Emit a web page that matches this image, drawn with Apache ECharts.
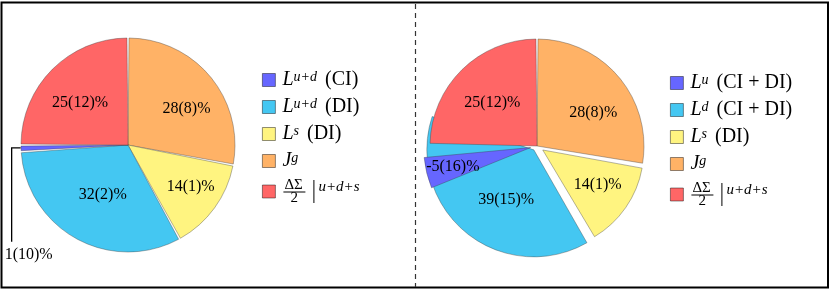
<!DOCTYPE html>
<html><head><meta charset="utf-8">
<script src="https://cdn.jsdelivr.net/npm/echarts@6/dist/echarts.min.js"></script>
<style>html,body{margin:0;padding:0;background:#fff}#c{width:831px;height:291px}</style>
</head><body><div id="c"></div>
<script>
// Legend order: L(CI) blue, L(DI) cyan, L^s yellow, J^g orange, DeltaSigma/2 red
const leftKeys = ['L_ud_CI', 'L_ud_DI', 'L_s_DI', 'J_g', 'DSig_L'];
const leftValues = [1, 32, 14, 28, 25];
const leftErrors = [10, 2, 1, 8, 12];

const rightKeys = ['L_u_CIDI', 'L_d_CIDI', 'L_s_DI_R', 'J_g_R', 'DSig_R'];
const rightValues = [-5, 39, 14, 28, 25];
const rightErrors = [16, 15, 1, 8, 12];

const colors = ['#6666FF', '#44C7F2', '#FFF480', '#FFB266', '#FF6666'];
// drawing order clockwise from 12 o'clock
const drawOrder = [3, 2, 1, 0, 4];

// ---- style / layout config ----
const FONT = 'Liberation Serif';
const R = 107;
const leftCenter = [128, 145];
const rightCenter = [537, 146];
const PAD = 1.1;
const border = { borderColor: 'rgba(60,60,60,0.55)', borderWidth: 0.7 };
const leftLabelShift = { 3: [15, 0], 2: [17, 9], 1: [2, 0], 4: [-8, -2] };
const rightLabelShift = { 3: [13, 3], 2: [11, 4], 1: [8, 6], 0: [-23, 6], 4: [-5, -3] };
const rightExplode = { 3: 0, 2: 7, 1: 5, 0: 6.5, 4: 0 };
const rightRadius = { 3: R, 2: R - 6, 1: R, 0: R, 4: R };
const blueBackShift = 1.6;

const FRAC = '{g0| }{num|ΔΣ}{g1| }{vb1| }{g2| }{sup2|u+d+s}\n{g0r| }{rule| }{g1r| }{vb2| }\n{g0d| }{den|2}{g1d| }{vb3| }';
const legendText = {
  L_ud_CI: '{g| }{it|L}{sup|u+d}{sp| }{rm|(CI)}',
  L_ud_DI: '{g| }{it|L}{sup|u+d}{sp| }{rm|(DI)}',
  L_s_DI: '{g| }{it|L}{sup|s}{sp| }{rm|(DI)}',
  J_g: '{g| }{it|J}{sup|g}',
  DSig_L: FRAC,
  L_u_CIDI: '{g| }{it|L}{sup|u}{sp| }{rm|(CI + DI)}',
  L_d_CIDI: '{g| }{it|L}{sup|d}{sp| }{rm|(CI + DI)}',
  L_s_DI_R: '{g| }{it|L}{sup|s}{sp| }{rm|(DI)}',
  J_g_R: '{g| }{it|J}{sup|g}',
  DSig_R: FRAC
};
const LH1 = 11, LH2 = 2, LH3 = 10;
function gap(w, lh) { return { width: w, fontSize: 1, lineHeight: lh }; }
const rich = {
  it: { fontFamily: FONT, fontStyle: 'italic', fontSize: 20, lineHeight: 20, color: '#000' },
  rm: { fontFamily: FONT, fontSize: 20, lineHeight: 20, color: '#000' },
  sup: { fontFamily: FONT, fontStyle: 'italic', fontSize: 14, lineHeight: 14, verticalAlign: 'top', color: '#000' },
  g: gap(2, 20),
  sp: gap(8, 20),
  g0: gap(4, LH1),
  num: { fontFamily: FONT, fontSize: 15, width: 21, lineHeight: LH1, color: '#000' },
  g1: gap(8, LH1),
  vb1: { width: 1, height: LH1, lineHeight: LH1, backgroundColor: '#000', fontSize: 1 },
  g2: gap(4, LH1),
  sup2: { fontFamily: FONT, fontStyle: 'italic', fontSize: 15, lineHeight: LH1, verticalAlign: 'top', color: '#000' },
  g0r: gap(3, LH2),
  rule: { width: 22, height: 1, lineHeight: LH2, backgroundColor: '#000', fontSize: 1 },
  g1r: gap(8, LH2),
  vb2: { width: 1, height: LH2, lineHeight: LH2, backgroundColor: '#000', fontSize: 1 },
  g0d: gap(10, LH3),
  den: { fontFamily: FONT, fontSize: 15, width: 15, lineHeight: LH3, color: '#000' },
  g1d: gap(8, LH3),
  vb3: { width: 1, height: LH3, lineHeight: LH3, backgroundColor: '#000', fontSize: 1 }
};

const labelBase = { show: true, position: 'inside', fontFamily: FONT, fontSize: 16, color: '#000', textBorderWidth: 0 };

function fmt(values, errors, i) { return values[i] + '(' + errors[i] + ')%'; }

// ---- left pie: one series ----
const leftData = drawOrder.map(i => {
  const item = {
    name: leftKeys[i], value: leftValues[i],
    itemStyle: Object.assign({ color: colors[i] }, border),
    label: Object.assign({}, labelBase, { formatter: fmt(leftValues, leftErrors, i) })
  };
  if (i === 0) {
    item.label.position = 'outside';
    item.labelLine = { show: true, length: 8, length2: 8, lineStyle: { color: '#000', width: 1.3 } };
  }
  return item;
});

const leftSeries = {
  type: 'pie', center: leftCenter, radius: R, startAngle: 90, clockwise: true,
  padAngle: PAD, avoidLabelOverlap: false, animation: false,
  emphasis: { disabled: true }, selectedMode: false,
  data: leftData,
  labelLayout: function (p) {
    const i = drawOrder[p.dataIndex];
    if (i === 0) {
      const x0 = p.rect.x, y0 = p.rect.y + p.rect.height / 2;
      return {
        x: x0 + 8, y: y0 + 107, align: 'center', verticalAlign: 'middle',
        labelLinePoints: [[x0, y0], [x0 - 9, y0], [x0 - 9, y0 + 94]]
      };
    }
    const s = leftLabelShift[i] || [0, 0];
    return { dx: s[0], dy: s[1] };
  }
};

// ---- right pie: layered series ----
const rightTotal = rightValues.reduce((a, b) => a + b, 0);
const starts = {};
starts[3] = 0;
starts[2] = starts[3] + rightValues[3];
starts[1] = starts[2] + rightValues[2];
starts[4] = rightTotal - rightValues[4];
starts[0] = starts[4] - Math.abs(rightValues[0]) - blueBackShift;

let fillerCount = 0;
function filler(v) {
  fillerCount++;
  return {
    name: '_filler' + fillerCount, value: v,
    itemStyle: { color: 'rgba(0,0,0,0)', borderWidth: 0 },
    label: { show: false }, labelLine: { show: false }
  };
}

function rightLayer(i) {
  const v = Math.abs(rightValues[i]);
  const st = starts[i];
  const data = [];
  if (st > 0) data.push(filler(st));
  const realIndex = data.length;
  data.push({
    name: rightKeys[i], value: v, selected: rightExplode[i] > 0,
    itemStyle: Object.assign({ color: colors[i] }, border),
    label: Object.assign({}, labelBase, { formatter: fmt(rightValues, rightErrors, i) })
  });
  const rest = rightTotal - st - v;
  if (rest > 0) data.push(filler(rest));
  const s = rightLabelShift[i];
  return {
    type: 'pie', center: rightCenter, radius: rightRadius[i], startAngle: 90, clockwise: true,
    padAngle: PAD, avoidLabelOverlap: false, animation: false,
    emphasis: { disabled: true },
    selectedMode: rightExplode[i] > 0 ? 'multiple' : false,
    selectedOffset: rightExplode[i],
    select: { itemStyle: Object.assign({ color: colors[i] }, border) },
    data: data,
    labelLayout: function (p) {
      if (p.dataIndex !== realIndex) return {};
      return { dx: s[0], dy: s[1] };
    }
  };
}

const rightSeries = [3, 2, 1, 4, 0].map(rightLayer);

const legendCommon = {
  orient: 'vertical', itemWidth: 13, itemHeight: 13, itemGap: 7, icon: 'rect',
  padding: 0, selectedMode: false,
  itemStyle: { borderColor: 'rgba(0,0,0,0.55)', borderWidth: 0.8 },
  formatter: n => legendText[n],
  textStyle: { fontFamily: FONT, fontSize: 20, lineHeight: 20, color: '#000', rich: rich }
};

const option = {
  animation: false,
  backgroundColor: '#fff',
  legend: [
    Object.assign({}, legendCommon, { left: 262, top: 70, data: leftKeys }),
    Object.assign({}, legendCommon, { left: 670, top: 73, data: rightKeys })
  ],
  graphic: [
    { type: 'rect', silent: true, shape: { x: 1.5, y: 2.5, width: 826.5, height: 285 },
      style: { fill: 'none', stroke: '#000', lineWidth: 2 } },
    { type: 'line', silent: true, shape: { x1: 415.5, y1: 4, x2: 415.5, y2: 287 },
      style: { stroke: '#333', lineWidth: 1.2, lineDash: [5, 4] } }
  ],
  series: [leftSeries].concat(rightSeries)
};

const chart = echarts.init(document.getElementById('c'), null, { renderer: 'canvas' });
chart.setOption(option);
</script>
</body></html>
